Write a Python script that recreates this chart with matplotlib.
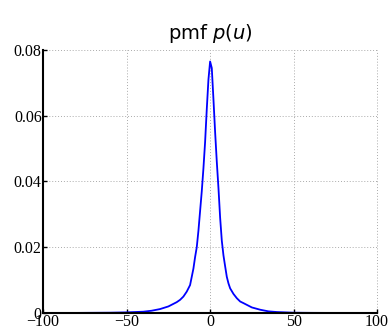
import matplotlib
matplotlib.use("Agg")
import matplotlib.pyplot as plt

u_vals = [-90, -60, -50, -40, -35, -30, -25, -20, -18, -16, -14, -13, -12, -11, -10,
          -9, -8, -7, -6, -5, -4, -3, -2, -1, 0, 1, 2, 3, 4, 5, 6, 7, 8, 9, 10,
          11, 12, 14, 16, 18, 20, 25, 30, 35, 40, 50, 60, 90]
p_vals = [0.0, 0.0001, 0.0002, 0.0004, 0.0007, 0.0012, 0.002, 0.0033, 0.004, 0.005,
          0.0065, 0.0075, 0.0085, 0.011, 0.0135, 0.017, 0.020, 0.025, 0.031, 0.037,
          0.044, 0.052, 0.062, 0.071, 0.0765, 0.0745, 0.065, 0.055, 0.046, 0.038,
          0.029, 0.022, 0.0175, 0.0142, 0.011, 0.009, 0.0075, 0.0058, 0.0045, 0.0035,
          0.003, 0.0017, 0.001, 0.0005, 0.0003, 0.0001, 0.00005, 0.0]
x_ticks = [-100, -50, 0, 50, 100]
y_ticks = [0, 0.02, 0.04, 0.06, 0.08]
y_tick_labels = ["0", "0.02", "0.04", "0.06", "0.08"]
x_tick_labels = ["\u2212100", "\u221250", "0", "50", "100"]

plt.rcParams['mathtext.fontset'] = 'dejavusans'
fig = plt.figure(figsize=(3.92, 3.33), dpi=100)
ax = fig.add_axes([0.110, 0.060, 0.852, 0.790])
ax.plot(u_vals, p_vals, color=(0, 0, 1), lw=1.3)
ax.set_xlim(-100, 100)
ax.set_ylim(0, 0.08)
ax.set_xticks(x_ticks)
ax.set_xticklabels(x_tick_labels)
ax.set_yticks(y_ticks)
ax.set_yticklabels(y_tick_labels)
for lab in ax.get_xticklabels() + ax.get_yticklabels():
    lab.set_family('Liberation Serif')
    lab.set_fontsize(11.5)
ax.tick_params(direction='in', length=3, width=1, pad=1, top=False, right=False)
ax.grid(True, linestyle=(0, (1, 2)), color='#aaaaaa', lw=0.7)
for gl in ax.get_xgridlines() + ax.get_ygridlines():
    gl.set_clip_on(False)
ax.spines['top'].set_visible(False)
ax.spines['right'].set_visible(False)
ax.spines['left'].set_linewidth(1.5)
ax.spines['bottom'].set_linewidth(1.5)
ax.set_axisbelow(True)
ax.set_title(r'pmf $p(u)$', fontsize=14, pad=8)
fig.savefig('out.png', dpi=100)
